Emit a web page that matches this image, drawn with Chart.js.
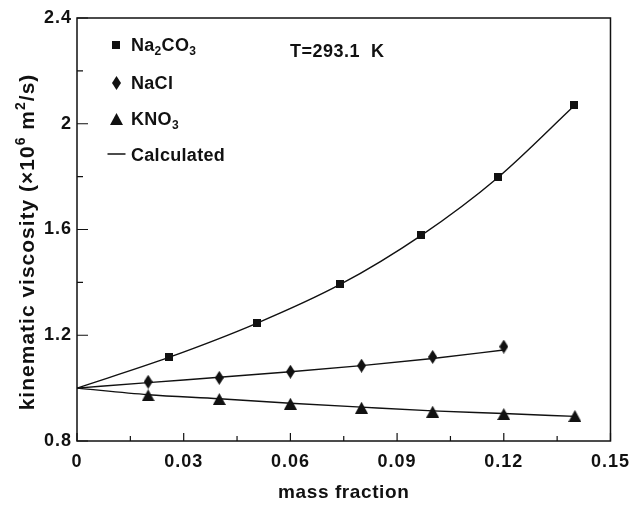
<!DOCTYPE html>
<html><head><meta charset="utf-8">
<script src="https://cdn.jsdelivr.net/npm/chart.js@4/dist/chart.umd.min.js"></script>
<style>html,body{margin:0;padding:0;background:#fff}#wrap{width:638px;height:506px}</style>
</head><body><div id="wrap"><canvas id="c" width="638" height="506"></canvas></div>
<script>
// ---- tick labels ----
const xTickValues = [0, 0.03, 0.06, 0.09, 0.12, 0.15];
const xTickLabels = ['0', '0.03', '0.06', '0.09', '0.12', '0.15'];
const yTickValues = [0.8, 1.2, 1.6, 2.0, 2.4];
const yTickLabels = ['0.8', '1.2', '1.6', '2', '2.4'];

// ---- measured data ----
const na2co3X = [0.0258, 0.0505, 0.074, 0.0967, 0.1183, 0.1398];
const na2co3Y = [1.118, 1.245, 1.394, 1.578, 1.797, 2.070];
const naclX = [0.02, 0.04, 0.06, 0.08, 0.10, 0.12];
const naclY = [1.024, 1.039, 1.062, 1.085, 1.118, 1.157];
const kno3X = [0.02, 0.04, 0.06, 0.08, 0.10, 0.12, 0.14];
const kno3Y = [0.973, 0.959, 0.941, 0.926, 0.911, 0.902, 0.895];

// ---- calculated curves ----
const calcNa2co3X = [0, 0.0258, 0.0505, 0.074, 0.0967, 0.1183, 0.1398];
const calcNa2co3Y = [1.0, 1.116, 1.245, 1.392, 1.577, 1.796, 2.068];
const calcNaclX = [0, 0.02, 0.04, 0.06, 0.08, 0.10, 0.12];
const calcNaclY = [1.0, 1.021, 1.041, 1.062, 1.085, 1.112, 1.144];
const calcKno3X = [0, 0.02, 0.04, 0.06, 0.08, 0.10, 0.12, 0.14];
const calcKno3Y = [1.0, 0.975, 0.960, 0.943, 0.928, 0.914, 0.904, 0.893];

const seriesLabels = ['Na₂CO₃', 'NaCl', 'KNO₃', 'Calculated'];
const xTitle = 'mass fraction';
const yTitle = 'kinematic viscosity (×10⁶ m²/s)';
const annotation = 'T=293.1  K';

const FONT_FAMILY = '"Liberation Sans", Arial, Helvetica, sans-serif';
const INK = '#111';

function pts(xs, ys) { return xs.map((x, i) => ({x: x, y: ys[i]})); }

function marker(kind) {
  const c = document.createElement('canvas');
  let w, h;
  if (kind === 'square') { w = 8; h = 8; }
  else if (kind === 'diamond') { w = 9; h = 14; }
  else { w = 13; h = 12; }
  c.width = w; c.height = h;
  const g = c.getContext('2d');
  g.fillStyle = INK;
  g.beginPath();
  if (kind === 'square') { g.rect(0, 0, w, h); }
  else if (kind === 'diamond') { g.moveTo(w/2, 0); g.lineTo(w, h/2); g.lineTo(w/2, h); g.lineTo(0, h/2); g.closePath(); }
  else { g.moveTo(w/2, 0); g.lineTo(w, h); g.lineTo(0, h); g.closePath(); }
  g.fill();
  return c;
}
const mSquare = marker('square'), mDiamond = marker('diamond'), mTriangle = marker('triangle');

const SUB = '₀₁₂₃₄₅₆₇₈₉', SUP = '⁰¹²³⁴⁵⁶⁷⁸⁹';
function segs(text) {
  const out = [];
  for (const ch of text) {
    let type = 'n', c = ch;
    if (SUB.includes(ch)) { type = 'sub'; c = String([...SUB].indexOf(ch)); }
    else if (SUP.includes(ch)) { type = 'sup'; c = String([...SUP].indexOf(ch)); }
    out.push({type, c});
  }
  return out;
}
function richWidth(ctx, text, size) {
  let w = 0;
  for (const s of segs(text)) {
    ctx.font = 'bold ' + (s.type === 'n' ? size : Math.round(size*0.65)) + 'px ' + FONT_FAMILY;
    w += ctx.measureText(s.c).width;
  }
  return w;
}
function drawRich(ctx, text, x, y, size, align, spacing) {
  ctx.letterSpacing = (spacing || 0) + 'px';
  ctx.textBaseline = 'middle';
  ctx.textAlign = 'left';
  let cx = align === 'center' ? x - richWidth(ctx, text, size) / 2 : x;
  for (const s of segs(text)) {
    const sz = s.type === 'n' ? size : Math.round(size*0.65);
    ctx.font = 'bold ' + sz + 'px ' + FONT_FAMILY;
    const dy = s.type === 'sub' ? size*0.3 : (s.type === 'sup' ? -size*0.35 : 0);
    ctx.fillText(s.c, cx, y + dy);
    cx += ctx.measureText(s.c).width;
  }
  ctx.letterSpacing = '0px';
}

const framePlugin = {
  id: 'frame',
  beforeDraw(chart) { chart.ctx.letterSpacing = '1px'; },
  afterDatasetsDraw(chart) {
    const {ctx, chartArea: a, scales} = chart;
    ctx.save();
    ctx.strokeStyle = INK; ctx.lineWidth = 1.5;
    ctx.strokeRect(a.left, a.top, a.right - a.left, a.bottom - a.top);
    ctx.lineWidth = 1.2;
    ctx.beginPath();
    const xs = scales.x, ys = scales.y;
    xTickValues.forEach((v, i) => {
      const px = xs.getPixelForValue(v);
      ctx.moveTo(px, a.bottom); ctx.lineTo(px, a.bottom - 8);
      if (i < xTickValues.length - 1) {
        const mx = xs.getPixelForValue((v + xTickValues[i+1]) / 2);
        ctx.moveTo(mx, a.bottom); ctx.lineTo(mx, a.bottom - 5);
      }
    });
    yTickValues.forEach((v, i) => {
      const py = ys.getPixelForValue(v);
      ctx.moveTo(a.left, py); ctx.lineTo(a.left + 11, py);
      if (i < yTickValues.length - 1) {
        const my = ys.getPixelForValue((v + yTickValues[i+1]) / 2);
        ctx.moveTo(a.left, my); ctx.lineTo(a.left + 6, my);
      }
    });
    ctx.stroke();
    ctx.restore();
  },
  afterDraw(chart) {
    const {ctx, chartArea: a} = chart;
    ctx.save();
    ctx.fillStyle = INK;
    // legend
    const ds = chart.data.datasets;
    const lx = 116, tx = 131;
    const rows = [45, 83, 119, 154];
    for (let i = 0; i < 3; i++) {
      const img = ds[i].pointStyle;
      ctx.drawImage(img, Math.round(lx - img.width/2), Math.round(rows[i] - img.height/2));
      drawRich(ctx, ds[i].label, tx, rows[i] + 1.5, 18, 'left', 0.3);
    }
    ctx.strokeStyle = INK; ctx.lineWidth = 1.5;
    ctx.beginPath(); ctx.moveTo(107.5, rows[3]); ctx.lineTo(125.5, rows[3]); ctx.stroke();
    drawRich(ctx, ds[3].label, tx, rows[3] + 2, 18, 'left', 0.3);
    // annotation
    drawRich(ctx, annotation, 290, 52, 18, 'left', 0.5);
    // axis titles
    drawRich(ctx, xTitle, (a.left + a.right) / 2, 493, 19, 'center', 0.6);
    ctx.save();
    ctx.translate(28, 242);
    ctx.rotate(-Math.PI / 2);
    drawRich(ctx, yTitle, 0, 0, 21, 'center', 1);
    ctx.restore();
    ctx.restore();
  }
};

const tickFont = {family: FONT_FAMILY, size: 18, weight: 'bold'};

new Chart(document.getElementById('c'), {
  type: 'scatter',
  data: {
    datasets: [
      {label: seriesLabels[0], data: pts(na2co3X, na2co3Y), pointStyle: mSquare, showLine: false},
      {label: seriesLabels[1], data: pts(naclX, naclY), pointStyle: mDiamond, showLine: false},
      {label: seriesLabels[2], data: pts(kno3X, kno3Y), pointStyle: mTriangle, showLine: false},
      {label: seriesLabels[3], data: pts(calcNa2co3X, calcNa2co3Y), showLine: true, pointRadius: 0, borderColor: INK, borderWidth: 1.4, cubicInterpolationMode: 'monotone'},
      {label: seriesLabels[3], data: pts(calcNaclX, calcNaclY), showLine: true, pointRadius: 0, borderColor: INK, borderWidth: 1.4, cubicInterpolationMode: 'monotone'},
      {label: seriesLabels[3], data: pts(calcKno3X, calcKno3Y), showLine: true, pointRadius: 0, borderColor: INK, borderWidth: 1.4, cubicInterpolationMode: 'monotone'}
    ]
  },
  options: {
    responsive: false,
    animation: false,
    devicePixelRatio: 1,
    layout: {padding: {top: 18, right: 20, left: 0, bottom: 0}},
    plugins: {legend: {display: false}, tooltip: {enabled: false}},
    scales: {
      x: {
        type: 'linear', min: 0, max: 0.15,
        afterBuildTicks: s => { s.ticks = xTickValues.map(v => ({value: v})); },
        afterFit: s => { s.height = 65; },
        grid: {display: false, drawTicks: false},
        border: {display: false},
        ticks: {callback: (v, i) => xTickLabels[i], font: tickFont, color: INK, padding: 10, maxRotation: 0, autoSkip: false}
      },
      y: {
        type: 'linear', min: 0.8, max: 2.4,
        afterBuildTicks: s => { s.ticks = yTickValues.map(v => ({value: v})); },
        afterFit: s => { s.width = 77; },
        grid: {display: false, drawTicks: false},
        border: {display: false},
        ticks: {callback: (v, i) => yTickLabels[i], font: tickFont, color: INK, padding: 5, autoSkip: false}
      }
    }
  },
  plugins: [framePlugin]
});
</script>
</body></html>
